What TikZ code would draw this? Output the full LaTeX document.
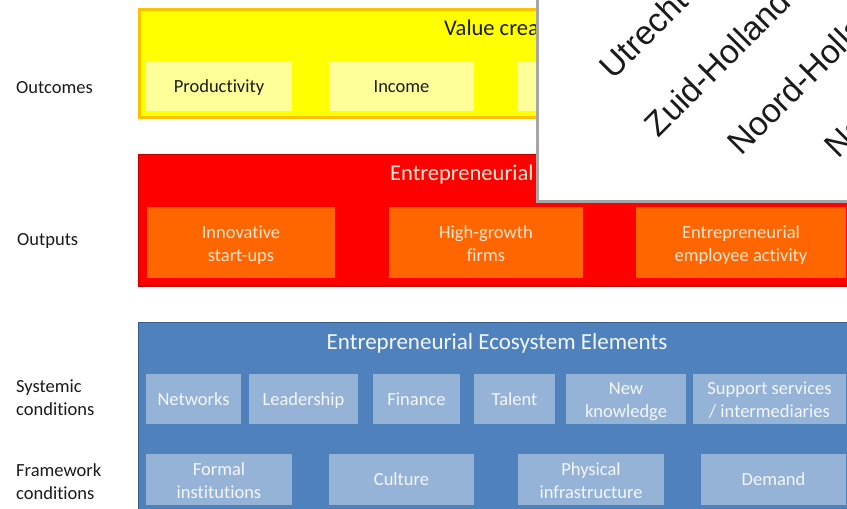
\documentclass[tikz,border=0pt]{standalone}
\usepackage{fontspec}
\setmainfont{Carlito}[Ligatures=NoCommon]
\newfontfamily\chartfont{Liberation Sans}
\newcommand\boxstrut{\rule[-5pt]{0pt}{22pt}}
\newcommand\twol[2]{\rule[-4pt]{0pt}{22pt}#1\\#2\rule[-4pt]{0pt}{22pt}}
\definecolor{yfill}{HTML}{FFFF00}
\definecolor{yline}{HTML}{FFC000}
\definecolor{ylight}{HTML}{FFFF99}
\definecolor{rfill}{HTML}{FF0000}
\definecolor{rline}{HTML}{C00000}
\definecolor{ofill}{HTML}{FF6600}
\definecolor{otext}{HTML}{FFE6D2}
\definecolor{bfill}{HTML}{4F81BD}
\definecolor{bline}{HTML}{385D8A}
\definecolor{blight}{HTML}{95B3D7}
\definecolor{btext}{HTML}{F4F7FB}
\definecolor{chartline}{HTML}{A6A6A6}
\definecolor{dtext}{HTML}{1A1A1A}
\begin{document}
\begin{tikzpicture}[x=1pt,y=-1pt,
  sz/.style 2 args={minimum width=#1pt, minimum height=#2pt},
  bodyfont/.style={font=\fontsize{18.5}{23}\selectfont},
  titlefont/.style={font=\fontsize{22.5}{27}\selectfont},
  outerbox/.style={inner sep=0pt, rectangle},
  inbox/.style={inner sep=0pt, rectangle, draw=none, align=center, bodyfont},
  oneline/.style={execute at begin node=\boxstrut, execute at end node=\boxstrut},
  ybox/.style={inbox, fill=ylight, text=dtext},
  obox/.style={inbox, fill=ofill, text=otext},
  bbox/.style={inbox, fill=blight, text=btext},
  sidelabel/.style={inner sep=0pt, align=left, bodyfont, text=dtext, anchor=west},
  rotlabel/.style={inner sep=0pt, anchor=base east, rotate=45, font=\chartfont\fontsize{33.5}{40}\selectfont, text=dtext}
]
\useasboundingbox (0,0) rectangle (847,509);
\clip (0,0) rectangle (847,509);

% side labels
\node[sidelabel] (lout) at (16,88) {Outcomes};
\node[sidelabel] (loutp) at (17,241) {Outputs};
\node[sidelabel] (lsys) at (16,398) {Systemic\\conditions};
\node[sidelabel] (lfw) at (16,482) {Framework\\conditions};

% value creation
\node[outerbox, fill=yfill, draw=yline, line width=2.5pt, sz={720.5}{107.8}] (vc) at (499.75,63.4) {};
\node[titlefont, text=dtext, anchor=base west, inner sep=0pt] (vct) at (444,35) {Value creation};
\node[ybox, oneline, sz={146}{50}] (prod) at (219,86) {Productivity};
\node[ybox, oneline, sz={145}{50}] (inc) at (401.5,86) {Income};
\node[ybox, sz={146}{50}] (emp) at (591,86) {};

% entrepreneurial activity
\node[outerbox, fill=rfill, draw=rline, line width=1.5pt, sz={721.3}{131.7}] (ea) at (499.35,220.15) {};
\node[titlefont, text=otext, anchor=base west, inner sep=0pt] (eat) at (390,180) {Entrepreneurial activity};
\node[obox, sz={188}{71}] (inno) at (241,242.5) {\twol{Innovative}{start-ups}};
\node[obox, sz={194}{71}] (hgf) at (486,242.5) {\twol{High-growth}{firms}};
\node[obox, sz={210}{71}] (eea) at (741,242.5) {\twol{Entrepreneurial}{employee activity}};

% ecosystem elements
\node[outerbox, fill=bfill, draw=bline, line width=1.5pt, sz={721.5}{207.3}] (eee) at (499.25,426.35) {};
\node[font=\fontsize{23}{27}\selectfont, text=btext, anchor=base, inner sep=0pt] (eeet) at (497,349) {Entrepreneurial Ecosystem Elements};
\node[bbox, oneline, sz={95}{50}] (net) at (193.5,399) {Networks};
\node[bbox, oneline, sz={109}{50}] (lead) at (303.5,399) {Leadership};
\node[bbox, oneline, sz={87}{50}] (fin) at (416.5,399) {Finance};
\node[bbox, oneline, sz={81}{50}] (tal) at (514.5,399) {Talent};
\node[bbox, sz={120}{50}] (nk) at (626,399) {\twol{New}{knowledge}};
\node[bbox, sz={153}{50}] (sup) at (769.5,399) {\twol{Support services}{/ intermediaries}};
\node[bbox, sz={146}{51}] (form) at (219,479.5) {\twol{Formal}{institutions}};
\node[bbox, oneline, sz={145}{51}] (cult) at (401.5,479.5) {Culture};
\node[bbox, sz={146}{51}] (phys) at (591,479.5) {\twol{Physical}{infrastructure}};
\node[bbox, oneline, sz={145}{51}] (dem) at (773.5,479.5) {Demand};

% overlaid chart
\node[outerbox, fill=white, draw=chartline, line width=3pt, sz={332.5}{211.5}] (chart) at (703.75,95.75) {};
\node[rotlabel] (utr) at (690,4) {Utrecht};
\node[rotlabel] (zh) at (793,4) {Zuid-Holland};
\node[rotlabel] (nh) at (894,4) {Noord-Holland};
\node[rotlabel] (nb) at (994,4) {Noord-Brabant};
\end{tikzpicture}
\end{document}
